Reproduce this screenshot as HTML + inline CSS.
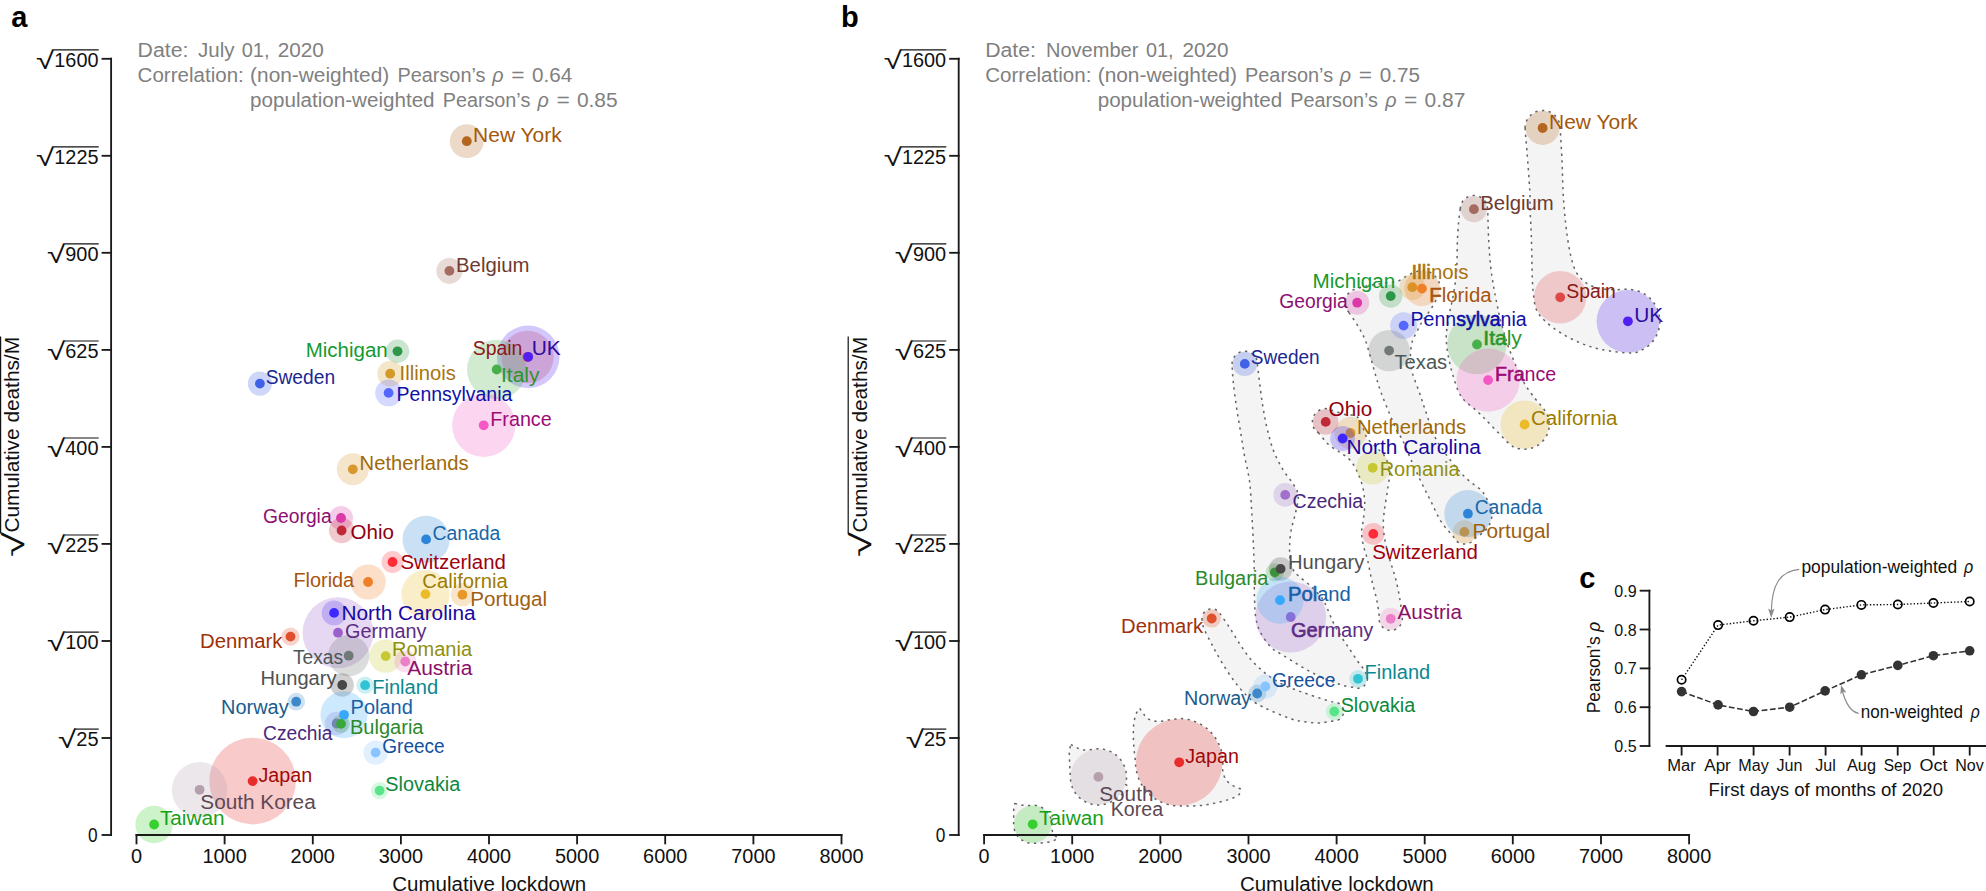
<!DOCTYPE html>
<html lang="en"><head><meta charset="utf-8"><title>Cumulative lockdown vs cumulative deaths</title>
<style>html,body{margin:0;padding:0;background:#fff;overflow:hidden}svg{display:block}text{font-family:"Liberation Sans", "DejaVu Sans", sans-serif;font-size:20px}.ax{stroke:#1a1a1a;stroke-width:1.85;fill:none;stroke-linecap:square}.tk{fill:#111}.ttl{fill:#808080}.pl{font-weight:bold;font-size:29px;fill:#000}.hull{fill:#f4f4f4;stroke:#626262;stroke-width:1.5;stroke-dasharray:2.3 4.4;stroke-linejoin:round}.s{font-size:16px;fill:#111}.m{font-size:17.5px;fill:#111}</style></head><body>
<svg width="1986" height="891" viewBox="0 0 1986 891">
<rect width="1986" height="891" fill="#fff"/>
<g class="hull">
<path d="M1525.1,128.0C1525.0,123.1 1525.6,123.4 1526.4,121.3C1527.3,119.2 1528.6,117.2 1530.2,115.6C1531.8,114.0 1533.8,112.7 1535.9,111.8C1538.0,111.0 1540.4,110.5 1542.6,110.5C1544.8,110.5 1547.2,111.0 1549.3,111.8C1551.4,112.7 1553.4,114.0 1555.0,115.6C1556.6,117.2 1557.9,119.2 1558.8,121.3C1559.6,123.4 1559.6,121.6 1560.1,128.0C1560.6,134.4 1561.5,149.7 1562.0,160.0C1562.5,170.3 1562.6,181.6 1563.0,190.0C1563.4,198.4 1563.8,203.5 1564.4,210.2C1565.0,216.9 1565.5,223.0 1566.5,230.4C1567.5,237.8 1568.8,247.5 1570.5,254.6C1572.2,261.7 1573.7,267.9 1576.6,272.8C1579.5,277.7 1583.5,281.3 1587.7,283.9C1591.9,286.5 1597.1,287.7 1601.8,288.6C1606.5,289.6 1611.2,289.4 1616.0,289.6C1620.8,289.8 1626.1,288.9 1630.7,289.5C1635.3,290.2 1639.7,291.3 1643.5,293.5C1647.3,295.6 1651.0,298.8 1653.6,302.4C1656.2,305.9 1658.2,310.3 1659.1,314.6C1660.0,318.9 1660.0,323.7 1659.1,328.0C1658.2,332.3 1656.2,336.7 1653.6,340.2C1651.0,343.8 1647.3,347.0 1643.5,349.1C1639.7,351.3 1637.6,353.0 1630.7,353.1C1623.7,353.2 1610.0,351.2 1601.8,349.6C1593.6,348.0 1588.3,346.2 1581.6,343.5C1574.9,340.8 1567.5,337.1 1561.4,333.4C1555.4,329.7 1549.5,325.3 1545.3,321.3C1541.1,317.3 1538.2,314.2 1536.2,309.2C1534.2,304.1 1533.8,297.4 1533.1,291.0C1532.4,284.6 1532.3,277.5 1532.1,270.8C1531.9,264.1 1531.9,257.3 1531.7,250.6C1531.5,243.9 1531.4,237.1 1531.1,230.4C1530.8,223.7 1530.3,216.9 1530.1,210.2C1529.9,203.5 1530.2,199.9 1529.7,190.0C1529.2,180.1 1527.7,160.9 1526.9,150.6C1526.1,140.3 1525.2,132.9 1525.1,128.0Z"/>
<path d="M1460.2,209.2C1460.6,206.2 1460.6,205.6 1461.2,204.0C1461.9,202.3 1463.0,200.7 1464.2,199.5C1465.4,198.3 1467.0,197.2 1468.7,196.5C1470.3,195.9 1472.2,195.5 1473.9,195.5C1475.6,195.5 1477.5,195.9 1479.1,196.5C1480.8,197.2 1482.4,198.3 1483.6,199.5C1484.8,200.7 1485.9,202.3 1486.6,204.0C1487.2,205.6 1487.2,203.1 1487.6,209.2C1488.0,215.3 1488.2,230.9 1488.7,240.5C1489.2,250.1 1489.9,259.1 1490.7,266.8C1491.5,274.6 1492.7,280.9 1493.7,287.0C1494.7,293.1 1495.8,298.1 1496.8,303.1C1497.8,308.2 1498.5,311.9 1499.8,317.3C1501.1,322.7 1503.3,330.4 1504.8,335.5C1506.3,340.6 1506.9,342.7 1508.9,348.2C1510.9,353.7 1514.3,362.3 1517.0,368.4C1519.7,374.4 1522.1,379.4 1525.1,384.5C1528.1,389.6 1532.1,394.7 1535.2,398.7C1538.3,402.7 1541.3,405.5 1543.5,408.6C1545.7,411.8 1547.4,414.4 1548.3,417.5C1549.2,420.7 1549.5,424.3 1549.1,427.6C1548.7,430.8 1547.5,434.3 1545.8,437.1C1544.2,439.9 1541.7,442.6 1539.0,444.6C1536.3,446.5 1533.0,448.0 1529.8,448.6C1526.6,449.3 1522.9,449.4 1519.7,448.7C1516.5,448.1 1515.3,448.7 1510.4,444.7C1505.6,440.8 1496.3,430.6 1490.7,424.9C1485.1,419.2 1481.5,415.4 1476.6,410.8C1471.7,406.2 1465.4,402.7 1461.5,397.0C1457.6,391.3 1455.5,383.3 1453.3,376.5C1451.1,369.7 1449.5,362.4 1448.3,356.3C1447.1,350.2 1446.5,344.7 1446.3,340.0C1446.1,335.3 1446.4,332.8 1447.0,328.0C1447.6,323.2 1448.9,316.7 1449.9,311.2C1451.0,305.7 1452.3,300.8 1453.3,295.1C1454.3,289.4 1455.4,282.6 1456.0,276.9C1456.6,271.2 1456.8,266.8 1457.0,260.7C1457.2,254.6 1457.1,246.9 1457.4,240.5C1457.7,234.1 1458.1,227.2 1458.6,222.0C1459.1,216.8 1459.8,212.2 1460.2,209.2Z"/>
<path d="M1349.0,312.5C1346.9,309.5 1346.7,310.2 1346.0,308.9C1345.3,307.6 1344.7,306.0 1344.5,304.5C1344.3,303.0 1344.4,301.3 1344.7,299.8C1345.1,298.3 1345.7,296.8 1346.6,295.5C1347.4,294.3 1349.0,293.1 1349.9,292.2C1350.8,291.3 1350.8,290.9 1352.0,290.3C1353.2,289.7 1354.7,289.3 1357.0,288.6C1359.3,287.9 1362.6,286.7 1365.9,286.0C1369.2,285.3 1373.1,284.7 1376.7,284.2C1380.3,283.7 1383.8,283.3 1387.4,282.8C1391.0,282.3 1395.4,281.9 1398.2,281.0C1401.0,280.1 1402.4,278.4 1404.5,277.2C1406.6,276.0 1408.7,274.9 1410.8,273.9C1412.9,272.9 1414.9,272.0 1417.0,271.4C1419.1,270.8 1421.4,270.3 1423.6,270.5C1425.8,270.6 1428.2,271.4 1430.3,272.4C1432.3,273.4 1434.2,274.9 1435.7,276.7C1437.2,278.4 1438.5,280.5 1439.2,282.7C1439.9,284.8 1440.3,287.3 1440.2,289.6C1440.1,291.8 1439.1,294.7 1438.5,296.3C1437.9,297.9 1437.7,297.5 1436.8,299.0C1435.9,300.5 1434.5,303.1 1433.2,305.3C1431.9,307.5 1430.3,310.0 1428.7,312.4C1427.1,314.8 1424.9,317.4 1423.4,319.6C1421.9,321.9 1421.0,323.6 1419.8,325.9C1418.6,328.1 1417.4,330.6 1416.2,333.1C1415.0,335.6 1413.5,337.2 1412.5,340.9C1411.5,344.6 1410.5,350.1 1410.4,355.1C1410.3,360.2 1410.5,365.1 1411.9,371.2C1413.3,377.2 1416.8,385.0 1419.0,391.4C1421.2,397.8 1422.5,402.1 1425.1,409.6C1427.7,417.1 1431.4,429.2 1434.7,436.4C1438.0,443.5 1441.1,447.1 1444.8,452.5C1448.5,457.9 1453.0,464.0 1457.0,468.7C1461.0,473.4 1465.1,477.2 1469.1,480.8C1473.1,484.4 1478.1,487.1 1481.0,490.0C1483.9,492.9 1484.8,495.5 1486.4,498.1C1488.1,500.8 1489.9,503.2 1490.8,505.9C1491.8,508.7 1492.2,511.8 1492.1,514.8C1491.9,517.7 1491.2,520.8 1490.1,523.4C1488.9,526.1 1487.6,528.2 1485.0,530.8C1482.4,533.4 1476.7,537.0 1474.4,538.9C1472.1,540.8 1472.4,541.2 1471.3,542.0C1470.1,542.8 1468.6,543.4 1467.2,543.8C1465.8,544.1 1464.2,544.2 1462.8,544.0C1461.4,543.8 1459.9,543.3 1458.6,542.6C1457.3,542.0 1456.1,541.0 1455.2,539.9C1454.2,538.8 1455.3,539.2 1452.9,536.1C1450.5,533.0 1444.5,527.0 1440.8,521.2C1437.1,515.4 1434.1,507.7 1430.7,501.0C1427.3,494.3 1424.0,487.9 1420.6,480.8C1417.2,473.7 1413.4,465.2 1410.5,458.6C1407.6,452.0 1405.3,445.8 1403.0,441.0C1400.7,436.2 1399.0,435.2 1396.5,430.0C1394.0,424.8 1390.7,416.4 1388.0,410.0C1385.3,403.6 1382.7,397.2 1380.6,391.4C1378.5,385.6 1377.3,381.0 1375.6,375.3C1373.9,369.6 1372.2,362.8 1370.5,357.1C1368.8,351.4 1367.5,345.9 1365.5,340.9C1363.5,335.8 1361.2,331.5 1358.4,326.8C1355.6,322.1 1351.0,315.5 1349.0,312.5Z"/>
<path d="M1232.1,363.9C1232.1,360.0 1232.5,360.4 1233.1,358.9C1233.8,357.4 1234.8,355.9 1236.0,354.7C1237.2,353.6 1238.8,352.6 1240.3,352.0C1241.9,351.4 1243.7,351.1 1245.4,351.2C1247.0,351.3 1248.8,351.7 1250.3,352.4C1251.8,353.2 1253.3,354.3 1254.3,355.5C1255.4,356.8 1256.4,358.4 1256.9,359.9C1257.4,361.5 1256.8,359.9 1257.5,365.0C1258.1,370.1 1259.6,383.0 1260.6,390.6C1261.6,398.2 1262.4,404.1 1263.6,410.8C1264.8,417.5 1266.0,424.3 1267.7,431.0C1269.4,437.7 1271.2,444.8 1273.7,451.2C1276.2,457.6 1279.6,464.0 1282.8,469.4C1286.0,474.8 1290.3,479.2 1292.9,483.6C1295.5,488.0 1297.9,490.9 1298.3,496.0C1298.7,501.1 1296.4,508.5 1295.2,514.3C1294.0,520.0 1292.0,525.1 1291.1,530.5C1290.2,535.9 1289.7,541.8 1289.6,546.7C1289.5,551.7 1289.6,556.3 1290.3,560.2C1291.0,564.1 1292.0,567.6 1293.5,570.3C1295.0,573.0 1296.1,573.7 1299.1,576.4C1302.0,579.1 1307.3,582.8 1311.2,586.5C1315.1,590.2 1319.6,594.9 1322.3,598.6C1325.0,602.3 1325.6,604.7 1327.4,608.7C1329.2,612.7 1331.1,618.1 1333.4,622.8C1335.8,627.5 1338.8,632.6 1341.5,637.0C1344.2,641.4 1346.9,645.1 1349.6,649.1C1352.3,653.1 1355.3,657.8 1357.7,661.2C1360.1,664.6 1362.3,667.1 1363.7,669.3C1365.1,671.4 1365.5,672.7 1366.1,674.1C1366.7,675.5 1367.2,676.5 1367.3,677.7C1367.5,678.9 1367.4,680.3 1367.0,681.5C1366.6,682.7 1366.0,683.9 1365.2,684.8C1364.4,685.8 1363.3,686.6 1362.2,687.2C1361.1,687.8 1359.8,688.1 1358.5,688.2C1357.3,688.3 1357.3,688.1 1354.8,687.6C1352.3,687.2 1347.4,686.5 1343.5,685.5C1339.6,684.5 1336.1,683.3 1331.4,681.4C1326.7,679.5 1320.7,677.0 1315.3,674.3C1309.9,671.6 1304.5,668.5 1299.1,665.3C1293.7,662.1 1287.6,658.2 1282.9,655.2C1278.2,652.2 1274.7,651.2 1270.8,647.1C1266.9,643.0 1262.2,636.0 1259.7,630.9C1257.2,625.8 1256.6,621.8 1255.7,616.8C1254.8,611.8 1254.8,606.7 1254.6,600.6C1254.3,594.5 1254.3,587.1 1254.2,580.4C1254.1,573.7 1254.2,566.9 1254.0,560.2C1253.8,553.5 1253.6,548.4 1253.2,540.0C1252.8,531.6 1252.2,519.8 1251.6,510.0C1251.0,500.2 1250.7,490.1 1249.5,481.0C1248.3,471.9 1245.9,463.6 1244.4,455.3C1242.9,447.0 1241.7,439.1 1240.4,431.0C1239.1,422.9 1237.6,414.9 1236.4,406.8C1235.2,398.7 1234.0,389.6 1233.3,382.5C1232.6,375.4 1232.1,367.8 1232.1,363.9Z"/>
<path d="M1319.0,433.4C1316.8,431.0 1316.2,431.3 1315.1,430.0C1314.1,428.7 1313.3,427.0 1312.9,425.3C1312.4,423.7 1312.3,421.8 1312.5,420.2C1312.7,418.5 1313.3,416.7 1314.2,415.2C1315.0,413.8 1316.3,412.4 1317.6,411.3C1318.9,410.3 1320.6,409.5 1322.3,409.1C1323.9,408.6 1325.8,408.5 1327.4,408.7C1329.1,408.9 1329.4,409.4 1332.4,410.4C1335.3,411.3 1340.7,413.3 1345.0,414.5C1349.3,415.7 1354.4,413.7 1358.0,417.5C1361.6,421.3 1363.8,432.6 1366.8,437.5C1369.8,442.4 1373.0,443.8 1376.0,447.0C1379.0,450.2 1382.7,452.7 1385.0,456.7C1387.3,460.7 1389.1,465.8 1389.6,470.8C1390.1,475.9 1388.8,480.9 1388.0,487.0C1387.2,493.1 1385.7,501.1 1384.9,507.2C1384.1,513.2 1383.3,517.8 1383.3,523.3C1383.3,528.8 1383.8,533.9 1384.9,540.0C1386.0,546.1 1388.1,553.5 1390.0,560.2C1391.9,566.9 1394.4,573.7 1396.1,580.4C1397.8,587.1 1399.1,594.7 1400.1,600.6C1401.1,606.5 1401.6,612.5 1401.9,615.8C1402.3,619.1 1402.4,618.9 1402.2,620.4C1402.0,621.9 1401.5,623.4 1400.7,624.7C1399.9,626.0 1398.8,627.2 1397.6,628.1C1396.4,629.0 1394.9,629.7 1393.5,630.1C1392.0,630.4 1390.4,630.5 1388.9,630.3C1387.4,630.0 1385.9,629.5 1384.6,628.7C1383.3,627.9 1382.1,626.8 1381.3,625.5C1380.4,624.3 1379.7,622.8 1379.4,621.4C1379.1,619.9 1379.7,620.2 1379.3,616.8C1378.9,613.3 1378.1,606.7 1376.9,600.6C1375.7,594.5 1373.3,587.1 1371.8,580.4C1370.2,573.7 1369.0,566.1 1367.6,560.2C1366.2,554.3 1364.2,549.8 1363.2,545.0C1362.2,540.2 1361.6,535.7 1361.6,531.4C1361.6,527.1 1362.9,524.0 1363.4,519.3C1363.9,514.6 1364.8,508.5 1364.7,503.1C1364.6,497.7 1363.9,492.1 1362.7,487.0C1361.5,481.9 1359.7,477.2 1357.7,472.8C1355.7,468.4 1353.5,464.1 1350.6,460.7C1347.7,457.3 1344.2,455.3 1340.5,452.6C1336.8,449.9 1332.0,447.7 1328.4,444.5C1324.8,441.3 1321.3,435.8 1319.0,433.4Z"/>
<path d="M1202.1,620.2C1201.8,618.1 1202.0,617.6 1202.2,616.3C1202.5,615.1 1203.1,613.9 1203.8,612.8C1204.6,611.8 1205.6,610.9 1206.6,610.2C1207.7,609.6 1209.0,609.1 1210.3,608.9C1211.5,608.7 1212.9,608.8 1214.1,609.1C1215.3,609.4 1216.6,610.0 1217.6,610.8C1218.6,611.5 1218.0,610.6 1220.1,613.6C1222.2,616.7 1227.0,623.7 1230.4,628.9C1233.8,634.1 1237.1,640.0 1240.5,645.1C1243.9,650.2 1247.2,655.2 1250.6,659.2C1254.0,663.2 1257.3,666.3 1260.7,669.3C1264.1,672.3 1266.8,674.7 1270.8,677.4C1274.8,680.1 1279.5,683.0 1284.9,685.5C1290.3,688.0 1297.0,690.3 1303.1,692.5C1309.2,694.7 1316.2,697.0 1321.3,698.6C1326.4,700.2 1330.8,701.6 1333.5,702.2C1336.1,702.9 1336.0,702.3 1337.2,702.7C1338.4,703.0 1339.5,703.7 1340.4,704.5C1341.3,705.3 1342.2,706.4 1342.7,707.5C1343.2,708.6 1343.5,709.9 1343.6,711.1C1343.6,712.3 1343.4,713.6 1343.0,714.8C1342.6,715.9 1341.9,717.1 1341.0,717.9C1340.2,718.8 1339.1,719.6 1338.0,720.1C1336.8,720.5 1337.6,720.3 1334.3,720.8C1331.0,721.3 1323.4,722.9 1318.2,723.0C1313.0,723.1 1307.5,722.2 1303.0,721.5C1298.5,720.8 1296.4,720.6 1291.0,718.8C1285.6,717.0 1276.5,713.2 1270.8,710.7C1265.1,708.2 1260.7,706.1 1256.7,703.6C1252.7,701.1 1250.3,699.3 1246.6,695.6C1242.9,691.9 1238.5,686.8 1234.4,681.4C1230.4,676.0 1226.0,669.2 1222.3,663.2C1218.6,657.2 1215.2,650.8 1212.2,645.1C1209.2,639.4 1205.8,633.1 1204.1,628.9C1202.4,624.7 1202.5,622.3 1202.1,620.2Z"/>
<path d="M1139.8,708.4L1140.1,708.8L1140.4,709.3L1140.8,710.0L1141.3,710.7L1141.7,711.4L1142.2,712.1L1142.7,712.9L1143.2,713.5L1143.7,714.1L1144.1,714.7L1144.5,715.3L1145.0,715.9L1145.5,716.5L1146.0,717.0L1146.5,717.5L1147.1,718.0L1147.7,718.4L1148.3,718.9L1149.0,719.3L1149.7,719.6L1150.4,720.0L1151.2,720.3L1152.0,720.6L1152.8,720.8L1153.7,721.0L1154.6,721.1L1155.5,721.2L1156.5,721.3L1157.5,721.4L1158.5,721.4L1159.6,721.3L1160.6,721.3L1161.7,721.2L1162.7,721.1L1163.8,720.9L1164.9,720.7L1166.0,720.4L1167.2,720.2L1168.4,720.0L1169.6,719.8L1171.0,719.6L1172.5,719.5L1174.1,719.3L1175.7,719.1L1177.3,719.0L1178.7,718.8L1179.9,718.7L1180.7,718.6L1183.8,718.8L1186.7,719.2L1189.5,719.8L1192.3,720.6L1195.1,721.6L1197.8,722.7L1200.4,724.1L1202.9,725.6L1205.3,727.2L1207.6,729.1L1209.7,731.0L1211.8,733.2L1213.6,735.4L1215.4,737.8L1216.9,740.2L1218.3,742.8L1219.5,745.5L1220.6,748.2L1221.4,751.0L1222.1,753.8L1222.5,756.7L1222.8,759.6L1222.9,762.6L1222.8,765.5L1222.5,768.4L1222.5,768.4L1222.6,769.0L1222.7,769.9L1222.9,770.9L1223.1,772.0L1223.3,773.2L1223.6,774.3L1223.9,775.4L1224.2,776.3L1224.6,777.1L1224.9,777.9L1225.3,778.6L1225.8,779.3L1226.2,780.0L1226.8,780.6L1227.3,781.3L1227.9,781.9L1228.5,782.5L1229.3,783.1L1230.0,783.7L1230.8,784.2L1231.6,784.8L1232.4,785.3L1233.2,785.8L1234.0,786.2L1234.8,786.6L1235.7,787.0L1236.6,787.4L1237.5,787.7L1238.4,788.0L1239.2,788.3L1239.8,788.5L1240.3,788.7L1240.3,789.0L1240.4,789.5L1240.5,790.1L1240.5,790.7L1240.6,791.3L1240.5,792.0L1240.4,792.6L1240.1,793.2L1239.7,793.7L1239.3,794.3L1238.8,794.8L1238.2,795.3L1237.5,795.8L1236.7,796.3L1235.8,796.8L1234.7,797.3L1233.5,797.8L1232.2,798.3L1230.8,798.8L1229.2,799.4L1227.6,799.9L1225.8,800.4L1224.0,800.9L1222.0,801.4L1219.9,801.9L1217.7,802.5L1215.4,803.1L1213.0,803.6L1210.4,804.2L1207.8,804.6L1205.1,805.1L1202.4,805.4L1199.4,805.6L1196.0,805.8L1192.4,805.9L1188.8,805.9L1185.4,806.0L1182.2,806.0L1179.6,806.0L1177.7,806.0L1174.6,805.8L1171.5,805.3L1168.3,804.6L1165.3,803.7L1162.3,802.6L1159.4,801.2L1156.6,799.7L1153.9,797.9L1151.3,796.0L1149.0,793.8L1146.7,791.5L1144.7,789.1L1142.8,786.5L1141.1,783.8L1139.7,780.9L1138.4,778.0L1137.4,774.9L1136.6,771.8L1136.0,768.7L1135.6,765.5L1135.5,762.3L1135.4,761.4L1135.3,760.2L1135.1,758.7L1134.9,757.1L1134.7,755.4L1134.5,753.7L1134.3,752.0L1134.2,750.5L1134.1,749.1L1133.9,747.7L1133.8,746.3L1133.7,744.9L1133.6,743.5L1133.5,742.1L1133.5,740.7L1133.4,739.3L1133.4,737.9L1133.3,736.4L1133.3,735.0L1133.3,733.6L1133.3,732.1L1133.3,730.7L1133.3,729.4L1133.4,728.1L1133.5,726.9L1133.6,725.6L1133.7,724.4L1133.9,723.3L1134.0,722.2L1134.2,721.1L1134.4,720.1L1134.6,719.1L1134.8,718.2L1135.0,717.3L1135.2,716.5L1135.4,715.7L1135.7,715.0L1135.9,714.3L1136.2,713.6L1136.5,712.9L1136.9,712.2L1137.3,711.6L1137.8,710.9L1138.3,710.3L1138.7,709.7L1139.2,709.2L1139.5,708.7Z"/>
<path d="M1070.8,744.6L1071.2,744.8L1071.6,745.0L1072.2,745.2L1072.8,745.5L1073.5,745.8L1074.2,746.2L1074.8,746.5L1075.5,746.8L1076.1,747.1L1076.8,747.5L1077.4,747.9L1078.1,748.3L1078.7,748.7L1079.4,749.1L1080.2,749.4L1080.9,749.6L1081.7,749.8L1082.4,749.9L1083.2,750.0L1084.0,750.0L1084.8,750.1L1085.7,750.1L1086.6,750.0L1087.6,750.0L1088.7,749.9L1090.1,749.8L1091.5,749.6L1092.9,749.4L1094.3,749.2L1095.6,749.1L1096.6,748.9L1097.4,748.8L1099.4,748.8L1101.5,749.0L1103.6,749.3L1105.6,749.7L1107.6,750.4L1109.6,751.1L1111.5,752.0L1113.3,753.1L1115.0,754.3L1116.7,755.6L1118.2,757.0L1119.7,758.5L1121.0,760.2L1122.2,761.9L1123.2,763.7L1124.1,765.6L1124.9,767.6L1125.5,769.6L1126.0,771.7L1126.3,773.7L1126.5,775.8L1126.5,777.9L1126.3,780.0L1126.0,782.1L1125.5,784.2L1125.7,784.3L1126.0,784.6L1126.2,784.8L1126.6,785.1L1126.9,785.4L1127.2,785.8L1127.4,786.1L1127.6,786.5L1127.7,786.9L1127.8,787.4L1127.9,787.9L1127.9,788.4L1127.9,788.9L1127.9,789.3L1127.9,789.7L1127.9,790.0L1127.7,790.2L1127.5,790.6L1127.3,791.0L1127.0,791.4L1126.7,791.8L1126.4,792.3L1126.0,792.7L1125.5,793.0L1124.9,793.3L1124.2,793.6L1123.4,793.9L1122.6,794.2L1121.7,794.4L1121.0,794.6L1120.4,794.8L1119.9,795.0L1118.6,796.4L1117.0,798.0L1115.3,799.4L1113.5,800.6L1111.5,801.7L1109.5,802.7L1107.5,803.5L1105.3,804.1L1103.2,804.6L1100.9,804.9L1098.7,805.0L1096.5,804.9L1094.3,804.7L1092.1,804.3L1090.0,803.7L1087.9,803.0L1085.8,802.0L1083.9,801.0L1082.0,799.7L1080.3,798.4L1078.6,796.9L1077.1,795.3L1075.7,793.5L1074.5,791.7L1073.4,789.7L1072.5,787.7L1071.7,785.6L1071.1,783.5L1070.7,781.3L1070.4,779.1L1070.3,776.9L1070.2,775.9L1070.2,774.5L1070.1,772.9L1070.0,771.1L1069.9,769.1L1069.8,767.2L1069.7,765.4L1069.6,763.7L1069.5,762.1L1069.5,760.5L1069.4,758.9L1069.4,757.3L1069.3,755.7L1069.3,754.2L1069.3,752.9L1069.4,751.6L1069.5,750.4L1069.7,749.3L1069.9,748.3L1070.1,747.3L1070.3,746.5L1070.5,745.7L1070.7,745.1Z"/>
<path d="M1014.8,803.5L1015.2,803.6L1015.7,803.7L1016.4,803.9L1017.1,804.1L1017.8,804.3L1018.6,804.5L1019.4,804.7L1020.2,804.8L1021.0,804.9L1021.8,805.1L1022.7,805.2L1023.5,805.3L1024.4,805.4L1025.3,805.5L1026.2,805.6L1027.0,805.6L1027.9,805.6L1028.8,805.6L1029.7,805.5L1030.6,805.5L1031.5,805.4L1032.2,805.3L1032.9,805.2L1033.4,805.2L1034.7,805.3L1036.2,805.5L1037.6,805.9L1039.1,806.3L1040.5,806.9L1041.8,807.5L1043.1,808.3L1044.3,809.1L1045.5,810.1L1046.6,811.2L1047.5,812.3L1048.4,813.5L1049.2,814.8L1049.9,816.1L1050.5,817.5L1051.0,818.9L1051.4,820.3L1051.6,821.8L1051.8,823.3L1051.8,824.8L1051.7,826.3L1051.8,826.9L1051.9,827.7L1052.0,828.7L1052.1,829.8L1052.3,830.9L1052.6,832.0L1052.8,833.0L1053.2,833.8L1053.7,834.5L1054.3,835.1L1055.0,835.7L1055.7,836.3L1056.4,836.7L1057.1,837.2L1057.6,837.5L1058.0,837.8L1057.6,838.1L1057.1,838.5L1056.5,838.9L1055.8,839.4L1055.1,839.9L1054.3,840.4L1053.4,840.8L1052.6,841.2L1051.7,841.5L1050.9,841.7L1050.0,841.9L1049.0,842.1L1048.0,842.3L1046.9,842.4L1045.7,842.6L1044.5,842.7L1043.1,842.8L1041.4,842.9L1039.6,843.0L1037.8,843.1L1036.0,843.2L1034.4,843.3L1033.0,843.3L1032.0,843.4L1030.7,843.3L1029.2,843.1L1027.6,842.7L1026.2,842.2L1024.7,841.7L1023.3,841.0L1022.0,840.1L1020.8,839.2L1019.6,838.2L1018.5,837.1L1017.5,835.9L1016.6,834.6L1015.8,833.3L1015.2,831.9L1014.6,830.4L1014.2,828.9L1013.9,827.4L1013.7,825.9L1013.6,824.3L1013.6,823.7L1013.6,822.8L1013.6,821.8L1013.6,820.7L1013.7,819.6L1013.7,818.4L1013.7,817.3L1013.7,816.3L1013.7,815.4L1013.7,814.5L1013.7,813.6L1013.7,812.8L1013.7,811.9L1013.7,811.1L1013.7,810.3L1013.8,809.5L1013.9,808.7L1014.0,807.8L1014.2,806.9L1014.3,806.1L1014.5,805.3L1014.6,804.6L1014.7,804.0Z"/>
</g>
<g>
<circle cx="466.8" cy="141.2" r="16.9" fill="#b3661f" fill-opacity=".25"/>
<circle cx="449.4" cy="270.9" r="13.0" fill="#a56a60" fill-opacity=".25"/>
<circle cx="259.9" cy="383.6" r="12.1" fill="#4060e8" fill-opacity=".25"/>
<circle cx="397.5" cy="351.3" r="11.7" fill="#2e9648" fill-opacity=".25"/>
<circle cx="390.2" cy="373.7" r="12.9" fill="#d49a28" fill-opacity=".25"/>
<circle cx="388.6" cy="392.9" r="13.4" fill="#5468ff" fill-opacity=".25"/>
<circle cx="527.5" cy="357.0" r="26.2" fill="#e04848" fill-opacity=".25"/>
<circle cx="528.2" cy="356.8" r="31.3" fill="#5020f0" fill-opacity=".25"/>
<circle cx="496.7" cy="369.5" r="29.7" fill="#48b048" fill-opacity=".25"/>
<circle cx="483.7" cy="425.3" r="31.6" fill="#f458c4" fill-opacity=".25"/>
<circle cx="352.8" cy="469.3" r="16.0" fill="#d89830" fill-opacity=".25"/>
<circle cx="341.0" cy="518.0" r="12.0" fill="#dc38a8" fill-opacity=".25"/>
<circle cx="341.6" cy="530.5" r="12.7" fill="#c02838" fill-opacity=".25"/>
<circle cx="426.1" cy="539.4" r="23.6" fill="#2c84d8" fill-opacity=".25"/>
<circle cx="392.5" cy="562.0" r="10.9" fill="#ff2c38" fill-opacity=".25"/>
<circle cx="368.1" cy="582.0" r="17.6" fill="#f08028" fill-opacity=".25"/>
<circle cx="425.5" cy="594.1" r="24.1" fill="#ecbc28" fill-opacity=".25"/>
<circle cx="462.4" cy="594.7" r="11.6" fill="#e89828" fill-opacity=".25"/>
<circle cx="334.1" cy="612.9" r="12.4" fill="#3c28ff" fill-opacity=".25"/>
<circle cx="338.0" cy="632.7" r="35.4" fill="#9c60cc" fill-opacity=".25"/>
<circle cx="290.5" cy="636.6" r="9.1" fill="#e0502c" fill-opacity=".25"/>
<circle cx="348.7" cy="655.7" r="20.6" fill="#707878" fill-opacity=".25"/>
<circle cx="385.7" cy="656.1" r="16.7" fill="#c8c830" fill-opacity=".25"/>
<circle cx="405.3" cy="661.5" r="11.0" fill="#ec80c8" fill-opacity=".25"/>
<circle cx="342.2" cy="685.0" r="11.7" fill="#484848" fill-opacity=".25"/>
<circle cx="365.1" cy="685.2" r="8.7" fill="#30c4d4" fill-opacity=".25"/>
<circle cx="296.2" cy="701.7" r="8.9" fill="#3c88c8" fill-opacity=".25"/>
<circle cx="336.6" cy="723.5" r="11.8" fill="#a070cc" fill-opacity=".25"/>
<circle cx="336.6" cy="723.5" r="4.9" fill="#a070cc"/>
<circle cx="344.0" cy="714.8" r="23.5" fill="#38a8fc" fill-opacity=".25"/>
<circle cx="341.0" cy="723.9" r="9.1" fill="#38a838" fill-opacity=".25"/>
<circle cx="375.6" cy="752.6" r="12.2" fill="#88c4ff" fill-opacity=".25"/>
<circle cx="379.6" cy="790.6" r="8.6" fill="#58e488" fill-opacity=".25"/>
<circle cx="252.6" cy="781.1" r="43.3" fill="#e82c2c" fill-opacity=".25"/>
<circle cx="199.6" cy="789.8" r="27.7" fill="#b4a0ac" fill-opacity=".25"/>
<circle cx="154.1" cy="824.5" r="18.7" fill="#38d030" fill-opacity=".25"/>
<circle cx="1542.6" cy="128.0" r="16.9" fill="#b3661f" fill-opacity=".25"/>
<circle cx="1473.9" cy="209.2" r="13.0" fill="#a56a60" fill-opacity=".25"/>
<circle cx="1357.2" cy="302.7" r="12.0" fill="#dc38a8" fill-opacity=".25"/>
<circle cx="1390.7" cy="296.1" r="11.7" fill="#2e9648" fill-opacity=".25"/>
<circle cx="1412.3" cy="287.2" r="12.9" fill="#d49a28" fill-opacity=".25"/>
<circle cx="1412.3" cy="287.2" r="4.9" fill="#d49a28"/>
<circle cx="1422.0" cy="288.6" r="17.6" fill="#f08028" fill-opacity=".25"/>
<circle cx="1403.6" cy="325.6" r="13.4" fill="#5468ff" fill-opacity=".25"/>
<circle cx="1389.1" cy="350.6" r="20.6" fill="#707878" fill-opacity=".25"/>
<circle cx="1477.0" cy="344.5" r="29.7" fill="#48b048" fill-opacity=".25"/>
<circle cx="1488.1" cy="380.1" r="31.6" fill="#f458c4" fill-opacity=".25"/>
<circle cx="1560.2" cy="297.3" r="26.2" fill="#e04848" fill-opacity=".25"/>
<circle cx="1627.9" cy="321.3" r="31.3" fill="#5020f0" fill-opacity=".25"/>
<circle cx="1244.8" cy="363.9" r="12.1" fill="#4060e8" fill-opacity=".25"/>
<circle cx="1325.7" cy="421.9" r="12.7" fill="#c02838" fill-opacity=".25"/>
<circle cx="1350.5" cy="433.0" r="16.0" fill="#d89830" fill-opacity=".25"/>
<circle cx="1350.5" cy="433.0" r="4.9" fill="#d89830"/>
<circle cx="1342.6" cy="438.5" r="12.4" fill="#3c28ff" fill-opacity=".25"/>
<circle cx="1372.7" cy="467.8" r="16.7" fill="#c8c830" fill-opacity=".25"/>
<circle cx="1285.2" cy="494.9" r="11.8" fill="#a070cc" fill-opacity=".25"/>
<circle cx="1524.6" cy="424.5" r="24.1" fill="#ecbc28" fill-opacity=".25"/>
<circle cx="1464.4" cy="531.9" r="11.6" fill="#e89828" fill-opacity=".25"/>
<circle cx="1464.4" cy="531.9" r="4.9" fill="#e89828"/>
<circle cx="1467.9" cy="513.7" r="23.6" fill="#2c84d8" fill-opacity=".25"/>
<circle cx="1373.3" cy="533.9" r="10.9" fill="#ff2c38" fill-opacity=".25"/>
<circle cx="1274.9" cy="572.3" r="9.1" fill="#38a838" fill-opacity=".25"/>
<circle cx="1274.9" cy="572.3" r="4.9" fill="#38a838"/>
<circle cx="1280.6" cy="568.9" r="11.7" fill="#484848" fill-opacity=".25"/>
<circle cx="1290.7" cy="617.0" r="35.4" fill="#9c60cc" fill-opacity=".25"/>
<circle cx="1290.7" cy="617.0" r="4.9" fill="#9c60cc"/>
<circle cx="1280.0" cy="600.2" r="23.5" fill="#38a8fc" fill-opacity=".25"/>
<circle cx="1390.7" cy="618.8" r="11.0" fill="#ec80c8" fill-opacity=".25"/>
<circle cx="1211.7" cy="618.5" r="9.1" fill="#e0502c" fill-opacity=".25"/>
<circle cx="1265.3" cy="686.5" r="12.2" fill="#88c4ff" fill-opacity=".25"/>
<circle cx="1257.2" cy="693.5" r="8.9" fill="#3c88c8" fill-opacity=".25"/>
<circle cx="1358.0" cy="678.8" r="8.7" fill="#30c4d4" fill-opacity=".25"/>
<circle cx="1334.3" cy="711.5" r="8.6" fill="#58e488" fill-opacity=".25"/>
<circle cx="1179.2" cy="762.3" r="43.3" fill="#e82c2c" fill-opacity=".25"/>
<circle cx="1098.4" cy="776.9" r="27.7" fill="#b4a0ac" fill-opacity=".25"/>
<circle cx="1032.7" cy="824.3" r="18.7" fill="#38d030" fill-opacity=".25"/>
</g>
<path class="ax" d="M111.1,58.6V835.0"/><path class="ax" d="M102.5,58.8H111.1"/><text x="54.3" y="67.2" class="tk" textLength="44.2" lengthAdjust="spacingAndGlyphs">1600</text><line x1="53.7" y1="49.9" x2="98.7" y2="49.9" stroke="#111" stroke-width="1.2"/><text class="tk rad" x="0.0" y="0.0" transform="translate(36.1,68.9) scale(1.660,1.228)">√</text><path class="ax" d="M102.5,155.8H111.1"/><text x="54.3" y="164.2" class="tk" textLength="44.2" lengthAdjust="spacingAndGlyphs">1225</text><line x1="53.7" y1="146.9" x2="98.7" y2="146.9" stroke="#111" stroke-width="1.2"/><text class="tk rad" x="0.0" y="0.0" transform="translate(36.1,165.9) scale(1.660,1.228)">√</text><path class="ax" d="M102.5,252.8H111.1"/><text x="65.3" y="261.2" class="tk" textLength="33.2" lengthAdjust="spacingAndGlyphs">900</text><line x1="64.7" y1="243.9" x2="98.7" y2="243.9" stroke="#111" stroke-width="1.2"/><text class="tk rad" x="0.0" y="0.0" transform="translate(47.1,262.9) scale(1.660,1.228)">√</text><path class="ax" d="M102.5,349.9H111.1"/><text x="65.3" y="358.3" class="tk" textLength="33.2" lengthAdjust="spacingAndGlyphs">625</text><line x1="64.7" y1="341.0" x2="98.7" y2="341.0" stroke="#111" stroke-width="1.2"/><text class="tk rad" x="0.0" y="0.0" transform="translate(47.1,360.0) scale(1.660,1.228)">√</text><path class="ax" d="M102.5,446.9H111.1"/><text x="65.3" y="455.3" class="tk" textLength="33.2" lengthAdjust="spacingAndGlyphs">400</text><line x1="64.7" y1="438.0" x2="98.7" y2="438.0" stroke="#111" stroke-width="1.2"/><text class="tk rad" x="0.0" y="0.0" transform="translate(47.1,457.0) scale(1.660,1.228)">√</text><path class="ax" d="M102.5,543.9H111.1"/><text x="65.3" y="552.3" class="tk" textLength="33.2" lengthAdjust="spacingAndGlyphs">225</text><line x1="64.7" y1="535.0" x2="98.7" y2="535.0" stroke="#111" stroke-width="1.2"/><text class="tk rad" x="0.0" y="0.0" transform="translate(47.1,554.0) scale(1.660,1.228)">√</text><path class="ax" d="M102.5,641.0H111.1"/><text x="65.3" y="649.4" class="tk" textLength="33.2" lengthAdjust="spacingAndGlyphs">100</text><line x1="64.7" y1="632.1" x2="98.7" y2="632.1" stroke="#111" stroke-width="1.2"/><text class="tk rad" x="0.0" y="0.0" transform="translate(47.1,651.1) scale(1.660,1.228)">√</text><path class="ax" d="M102.5,738.0H111.1"/><text x="76.3" y="746.4" class="tk" textLength="22.2" lengthAdjust="spacingAndGlyphs">25</text><line x1="75.7" y1="729.1" x2="98.7" y2="729.1" stroke="#111" stroke-width="1.2"/><text class="tk rad" x="0.0" y="0.0" transform="translate(58.1,748.1) scale(1.660,1.228)">√</text><path class="ax" d="M102.5,835.0H111.1"/><text x="88.1" y="842.2" class="tk" textLength="9.6" lengthAdjust="spacingAndGlyphs">0</text><path class="ax" d="M136.5,835.0H841.5"/><path class="ax" d="M136.5,835.0V843.4"/><text x="131.0" y="862.8" class="tk" textLength="11.1" lengthAdjust="spacingAndGlyphs">0</text><path class="ax" d="M224.6,835.0V843.4"/><text x="202.5" y="862.8" class="tk" textLength="44.2" lengthAdjust="spacingAndGlyphs">1000</text><path class="ax" d="M312.8,835.0V843.4"/><text x="290.6" y="862.8" class="tk" textLength="44.2" lengthAdjust="spacingAndGlyphs">2000</text><path class="ax" d="M400.9,835.0V843.4"/><text x="378.8" y="862.8" class="tk" textLength="44.2" lengthAdjust="spacingAndGlyphs">3000</text><path class="ax" d="M489.0,835.0V843.4"/><text x="466.9" y="862.8" class="tk" textLength="44.2" lengthAdjust="spacingAndGlyphs">4000</text><path class="ax" d="M577.1,835.0V843.4"/><text x="555.0" y="862.8" class="tk" textLength="44.2" lengthAdjust="spacingAndGlyphs">5000</text><path class="ax" d="M665.2,835.0V843.4"/><text x="643.1" y="862.8" class="tk" textLength="44.2" lengthAdjust="spacingAndGlyphs">6000</text><path class="ax" d="M753.4,835.0V843.4"/><text x="731.3" y="862.8" class="tk" textLength="44.2" lengthAdjust="spacingAndGlyphs">7000</text><path class="ax" d="M841.5,835.0V843.4"/><text x="819.4" y="862.8" class="tk" textLength="44.2" lengthAdjust="spacingAndGlyphs">8000</text><text x="392.3" y="890.6" class="tk" textLength="193.9" lengthAdjust="spacingAndGlyphs">Cumulative lockdown</text><g transform="translate(19.2,532.5) rotate(-90)"><text x="0.0" y="0.0" class="tk" textLength="195.5" lengthAdjust="spacingAndGlyphs">Cumulative deaths/M</text><line x1="-1" y1="-18.6" x2="196" y2="-18.6" stroke="#111" stroke-width="1.2"/><text class="tk rad" transform="translate(-24.6,4.4) scale(2.280,1.460)">√</text></g>
<path class="ax" d="M958.7,58.6V835.0"/><path class="ax" d="M950.1,58.8H958.7"/><text x="901.9" y="67.2" class="tk" textLength="44.2" lengthAdjust="spacingAndGlyphs">1600</text><line x1="901.3" y1="49.9" x2="946.3" y2="49.9" stroke="#111" stroke-width="1.2"/><text class="tk rad" x="0.0" y="0.0" transform="translate(883.7,68.9) scale(1.660,1.228)">√</text><path class="ax" d="M950.1,155.8H958.7"/><text x="901.9" y="164.2" class="tk" textLength="44.2" lengthAdjust="spacingAndGlyphs">1225</text><line x1="901.3" y1="146.9" x2="946.3" y2="146.9" stroke="#111" stroke-width="1.2"/><text class="tk rad" x="0.0" y="0.0" transform="translate(883.7,165.9) scale(1.660,1.228)">√</text><path class="ax" d="M950.1,252.8H958.7"/><text x="912.9" y="261.2" class="tk" textLength="33.2" lengthAdjust="spacingAndGlyphs">900</text><line x1="912.3" y1="243.9" x2="946.3" y2="243.9" stroke="#111" stroke-width="1.2"/><text class="tk rad" x="0.0" y="0.0" transform="translate(894.7,262.9) scale(1.660,1.228)">√</text><path class="ax" d="M950.1,349.9H958.7"/><text x="912.9" y="358.3" class="tk" textLength="33.2" lengthAdjust="spacingAndGlyphs">625</text><line x1="912.3" y1="341.0" x2="946.3" y2="341.0" stroke="#111" stroke-width="1.2"/><text class="tk rad" x="0.0" y="0.0" transform="translate(894.7,360.0) scale(1.660,1.228)">√</text><path class="ax" d="M950.1,446.9H958.7"/><text x="912.9" y="455.3" class="tk" textLength="33.2" lengthAdjust="spacingAndGlyphs">400</text><line x1="912.3" y1="438.0" x2="946.3" y2="438.0" stroke="#111" stroke-width="1.2"/><text class="tk rad" x="0.0" y="0.0" transform="translate(894.7,457.0) scale(1.660,1.228)">√</text><path class="ax" d="M950.1,543.9H958.7"/><text x="912.9" y="552.3" class="tk" textLength="33.2" lengthAdjust="spacingAndGlyphs">225</text><line x1="912.3" y1="535.0" x2="946.3" y2="535.0" stroke="#111" stroke-width="1.2"/><text class="tk rad" x="0.0" y="0.0" transform="translate(894.7,554.0) scale(1.660,1.228)">√</text><path class="ax" d="M950.1,641.0H958.7"/><text x="912.9" y="649.4" class="tk" textLength="33.2" lengthAdjust="spacingAndGlyphs">100</text><line x1="912.3" y1="632.1" x2="946.3" y2="632.1" stroke="#111" stroke-width="1.2"/><text class="tk rad" x="0.0" y="0.0" transform="translate(894.7,651.1) scale(1.660,1.228)">√</text><path class="ax" d="M950.1,738.0H958.7"/><text x="923.9" y="746.4" class="tk" textLength="22.2" lengthAdjust="spacingAndGlyphs">25</text><line x1="923.3" y1="729.1" x2="946.3" y2="729.1" stroke="#111" stroke-width="1.2"/><text class="tk rad" x="0.0" y="0.0" transform="translate(905.7,748.1) scale(1.660,1.228)">√</text><path class="ax" d="M950.1,835.0H958.7"/><text x="935.7" y="842.2" class="tk" textLength="9.6" lengthAdjust="spacingAndGlyphs">0</text><path class="ax" d="M984.1,835.0H1689.1"/><path class="ax" d="M984.1,835.0V843.4"/><text x="978.6" y="862.8" class="tk" textLength="11.0" lengthAdjust="spacingAndGlyphs">0</text><path class="ax" d="M1072.2,835.0V843.4"/><text x="1050.1" y="862.8" class="tk" textLength="44.2" lengthAdjust="spacingAndGlyphs">1000</text><path class="ax" d="M1160.3,835.0V843.4"/><text x="1138.2" y="862.8" class="tk" textLength="44.2" lengthAdjust="spacingAndGlyphs">2000</text><path class="ax" d="M1248.5,835.0V843.4"/><text x="1226.4" y="862.8" class="tk" textLength="44.2" lengthAdjust="spacingAndGlyphs">3000</text><path class="ax" d="M1336.6,835.0V843.4"/><text x="1314.5" y="862.8" class="tk" textLength="44.2" lengthAdjust="spacingAndGlyphs">4000</text><path class="ax" d="M1424.7,835.0V843.4"/><text x="1402.6" y="862.8" class="tk" textLength="44.2" lengthAdjust="spacingAndGlyphs">5000</text><path class="ax" d="M1512.8,835.0V843.4"/><text x="1490.8" y="862.8" class="tk" textLength="44.2" lengthAdjust="spacingAndGlyphs">6000</text><path class="ax" d="M1601.0,835.0V843.4"/><text x="1578.9" y="862.8" class="tk" textLength="44.2" lengthAdjust="spacingAndGlyphs">7000</text><path class="ax" d="M1689.1,835.0V843.4"/><text x="1667.0" y="862.8" class="tk" textLength="44.2" lengthAdjust="spacingAndGlyphs">8000</text><text x="1239.9" y="890.6" class="tk" textLength="193.9" lengthAdjust="spacingAndGlyphs">Cumulative lockdown</text><g transform="translate(866.8,532.5) rotate(-90)"><text x="0.0" y="0.0" class="tk" textLength="195.5" lengthAdjust="spacingAndGlyphs">Cumulative deaths/M</text><line x1="-1" y1="-18.6" x2="196" y2="-18.6" stroke="#111" stroke-width="1.2"/><text class="tk rad" transform="translate(-24.6,4.4) scale(2.280,1.460)">√</text></g>
<g>
<circle cx="466.8" cy="141.2" r="4.9" fill="#b3661f"/>
<circle cx="449.4" cy="270.9" r="4.9" fill="#a56a60"/>
<circle cx="259.9" cy="383.6" r="4.9" fill="#4060e8"/>
<circle cx="397.5" cy="351.3" r="4.9" fill="#2e9648"/>
<circle cx="390.2" cy="373.7" r="4.9" fill="#d49a28"/>
<circle cx="388.6" cy="392.9" r="4.9" fill="#5468ff"/>
<circle cx="527.5" cy="357.0" r="4.9" fill="#e04848"/>
<circle cx="528.2" cy="356.8" r="4.9" fill="#5020f0"/>
<circle cx="496.7" cy="369.5" r="4.9" fill="#48b048"/>
<circle cx="483.7" cy="425.3" r="4.9" fill="#f458c4"/>
<circle cx="352.8" cy="469.3" r="4.9" fill="#d89830"/>
<circle cx="341.0" cy="518.0" r="4.9" fill="#dc38a8"/>
<circle cx="341.6" cy="530.5" r="4.9" fill="#c02838"/>
<circle cx="426.1" cy="539.4" r="4.9" fill="#2c84d8"/>
<circle cx="392.5" cy="562.0" r="4.9" fill="#ff2c38"/>
<circle cx="368.1" cy="582.0" r="4.9" fill="#f08028"/>
<circle cx="425.5" cy="594.1" r="4.9" fill="#ecbc28"/>
<circle cx="462.4" cy="594.7" r="4.9" fill="#e89828"/>
<circle cx="334.1" cy="612.9" r="4.9" fill="#3c28ff"/>
<circle cx="338.0" cy="632.7" r="4.9" fill="#9c60cc"/>
<circle cx="290.5" cy="636.6" r="4.9" fill="#e0502c"/>
<circle cx="348.7" cy="655.7" r="4.9" fill="#707878"/>
<circle cx="385.7" cy="656.1" r="4.9" fill="#c8c830"/>
<circle cx="405.3" cy="661.5" r="4.9" fill="#ec80c8"/>
<circle cx="342.2" cy="685.0" r="4.9" fill="#484848"/>
<circle cx="365.1" cy="685.2" r="4.9" fill="#30c4d4"/>
<circle cx="296.2" cy="701.7" r="4.9" fill="#3c88c8"/>
<circle cx="344.0" cy="714.8" r="4.9" fill="#38a8fc"/>
<circle cx="341.0" cy="723.9" r="4.9" fill="#38a838"/>
<circle cx="375.6" cy="752.6" r="4.9" fill="#88c4ff"/>
<circle cx="379.6" cy="790.6" r="4.9" fill="#58e488"/>
<circle cx="252.6" cy="781.1" r="4.9" fill="#e82c2c"/>
<circle cx="199.6" cy="789.8" r="4.9" fill="#b4a0ac"/>
<circle cx="154.1" cy="824.5" r="4.9" fill="#38d030"/>
<circle cx="1542.6" cy="128.0" r="4.9" fill="#b3661f"/>
<circle cx="1473.9" cy="209.2" r="4.9" fill="#a56a60"/>
<circle cx="1357.2" cy="302.7" r="4.9" fill="#dc38a8"/>
<circle cx="1390.7" cy="296.1" r="4.9" fill="#2e9648"/>
<circle cx="1422.0" cy="288.6" r="4.9" fill="#f08028"/>
<circle cx="1403.6" cy="325.6" r="4.9" fill="#5468ff"/>
<circle cx="1389.1" cy="350.6" r="4.9" fill="#707878"/>
<circle cx="1477.0" cy="344.5" r="4.9" fill="#48b048"/>
<circle cx="1488.1" cy="380.1" r="4.9" fill="#f458c4"/>
<circle cx="1560.2" cy="297.3" r="4.9" fill="#e04848"/>
<circle cx="1627.9" cy="321.3" r="4.9" fill="#5020f0"/>
<circle cx="1244.8" cy="363.9" r="4.9" fill="#4060e8"/>
<circle cx="1325.7" cy="421.9" r="4.9" fill="#c02838"/>
<circle cx="1342.6" cy="438.5" r="4.9" fill="#3c28ff"/>
<circle cx="1372.7" cy="467.8" r="4.9" fill="#c8c830"/>
<circle cx="1285.2" cy="494.9" r="4.9" fill="#a070cc"/>
<circle cx="1524.6" cy="424.5" r="4.9" fill="#ecbc28"/>
<circle cx="1467.9" cy="513.7" r="4.9" fill="#2c84d8"/>
<circle cx="1373.3" cy="533.9" r="4.9" fill="#ff2c38"/>
<circle cx="1280.6" cy="568.9" r="4.9" fill="#484848"/>
<circle cx="1280.0" cy="600.2" r="4.9" fill="#38a8fc"/>
<circle cx="1390.7" cy="618.8" r="4.9" fill="#ec80c8"/>
<circle cx="1211.7" cy="618.5" r="4.9" fill="#e0502c"/>
<circle cx="1265.3" cy="686.5" r="4.9" fill="#88c4ff"/>
<circle cx="1257.2" cy="693.5" r="4.9" fill="#3c88c8"/>
<circle cx="1358.0" cy="678.8" r="4.9" fill="#30c4d4"/>
<circle cx="1334.3" cy="711.5" r="4.9" fill="#58e488"/>
<circle cx="1179.2" cy="762.3" r="4.9" fill="#e82c2c"/>
<circle cx="1098.4" cy="776.9" r="4.9" fill="#b4a0ac"/>
<circle cx="1032.7" cy="824.3" r="4.9" fill="#38d030"/>
</g>
<g>
<text x="473.1" y="142.3" fill="#a4570a" textLength="88.7" lengthAdjust="spacingAndGlyphs">New York</text>
<text x="456.0" y="271.8" fill="#6e3a30" textLength="73.5" lengthAdjust="spacingAndGlyphs">Belgium</text>
<text x="265.7" y="384.1" fill="#1a2890" textLength="69.4" lengthAdjust="spacingAndGlyphs">Sweden</text>
<text x="305.7" y="356.5" fill="#149a30" textLength="82.0" lengthAdjust="spacingAndGlyphs">Michigan</text>
<text x="399.6" y="380.3" fill="#a8740c" textLength="56.2" lengthAdjust="spacingAndGlyphs">Illinois</text>
<text x="396.6" y="400.5" fill="#1010a8" textLength="115.7" lengthAdjust="spacingAndGlyphs">Pennsylvania</text>
<text x="472.7" y="354.6" fill="#8c1818" textLength="49.7" lengthAdjust="spacingAndGlyphs">Spain</text>
<text x="531.7" y="354.6" fill="#2c0ca0" textLength="29.1" lengthAdjust="spacingAndGlyphs">UK</text>
<text x="501.0" y="381.9" fill="#2a962a" textLength="38.5" lengthAdjust="spacingAndGlyphs">Italy</text>
<text x="490.3" y="425.8" fill="#9c0c74" textLength="61.4" lengthAdjust="spacingAndGlyphs">France</text>
<text x="359.6" y="469.8" fill="#a06a08" textLength="108.9" lengthAdjust="spacingAndGlyphs">Netherlands</text>
<text x="263.1" y="522.5" fill="#8c1070" textLength="68.5" lengthAdjust="spacingAndGlyphs">Georgia</text>
<text x="350.6" y="538.7" fill="#900010" textLength="43.4" lengthAdjust="spacingAndGlyphs">Ohio</text>
<text x="432.4" y="539.9" fill="#1668a8" textLength="67.9" lengthAdjust="spacingAndGlyphs">Canada</text>
<text x="400.5" y="568.8" fill="#a00010" textLength="105.3" lengthAdjust="spacingAndGlyphs">Switzerland</text>
<text x="293.4" y="587.0" fill="#a85410" textLength="60.8" lengthAdjust="spacingAndGlyphs">Florida</text>
<text x="422.3" y="588.2" fill="#9c7c00" textLength="85.5" lengthAdjust="spacingAndGlyphs">California</text>
<text x="470.2" y="606.2" fill="#a06010" textLength="77.0" lengthAdjust="spacingAndGlyphs">Portugal</text>
<text x="341.5" y="619.9" fill="#1808a0" textLength="134.0" lengthAdjust="spacingAndGlyphs">North Carolina</text>
<text x="345.0" y="637.7" fill="#5c2c84" textLength="81.5" lengthAdjust="spacingAndGlyphs">Germany</text>
<text x="200.1" y="647.8" fill="#a03008" textLength="82.4" lengthAdjust="spacingAndGlyphs">Denmark</text>
<text x="293.0" y="663.8" fill="#4c5858" textLength="50.1" lengthAdjust="spacingAndGlyphs">Texas</text>
<text x="392.0" y="656.2" fill="#909010" textLength="80.0" lengthAdjust="spacingAndGlyphs">Romania</text>
<text x="407.2" y="675.3" fill="#8c1068" textLength="65.2" lengthAdjust="spacingAndGlyphs">Austria</text>
<text x="260.5" y="684.6" fill="#505050" textLength="76.0" lengthAdjust="spacingAndGlyphs">Hungary</text>
<text x="372.2" y="694.1" fill="#0c8890" textLength="65.9" lengthAdjust="spacingAndGlyphs">Finland</text>
<text x="221.1" y="713.7" fill="#185c8c" textLength="67.5" lengthAdjust="spacingAndGlyphs">Norway</text>
<text x="263.1" y="739.6" fill="#48287c" textLength="69.3" lengthAdjust="spacingAndGlyphs">Czechia</text>
<text x="350.6" y="714.3" fill="#1660a8" textLength="62.2" lengthAdjust="spacingAndGlyphs">Poland</text>
<text x="350.0" y="733.5" fill="#2a8a2a" textLength="73.5" lengthAdjust="spacingAndGlyphs">Bulgaria</text>
<text x="382.3" y="752.7" fill="#1450a0" textLength="62.4" lengthAdjust="spacingAndGlyphs">Greece</text>
<text x="385.3" y="791.1" fill="#0c883c" textLength="75.0" lengthAdjust="spacingAndGlyphs">Slovakia</text>
<text x="258.5" y="781.8" fill="#a00808" textLength="53.7" lengthAdjust="spacingAndGlyphs">Japan</text>
<text x="200.3" y="808.5" fill="#5c4854" textLength="115.4" lengthAdjust="spacingAndGlyphs">South Korea</text>
<text x="159.9" y="825.0" fill="#18a018" textLength="64.8" lengthAdjust="spacingAndGlyphs">Taiwan</text>
<text x="1549.0" y="128.5" fill="#a4570a" textLength="88.7" lengthAdjust="spacingAndGlyphs">New York</text>
<text x="1480.3" y="210.3" fill="#6e3a30" textLength="73.5" lengthAdjust="spacingAndGlyphs">Belgium</text>
<text x="1279.3" y="307.9" fill="#8c1070" textLength="68.5" lengthAdjust="spacingAndGlyphs">Georgia</text>
<text x="1312.6" y="287.7" fill="#149a30" textLength="82.6" lengthAdjust="spacingAndGlyphs">Michigan</text>
<text x="1411.6" y="279.0" fill="#a8740c" textLength="56.8" lengthAdjust="spacingAndGlyphs"><tspan stroke="#a8740c" stroke-width=".6">Illi</tspan>nois</text>
<text x="1429.2" y="302.2" fill="#a85410" textLength="62.4" lengthAdjust="spacingAndGlyphs"><tspan stroke="#a85410" stroke-width=".6">F</tspan>lorida</text>
<text x="1410.6" y="326.1" fill="#1010a8" textLength="116.0" lengthAdjust="spacingAndGlyphs">Penn<tspan stroke="#1010a8" stroke-width=".6">sylva</tspan>nia</text>
<text x="1394.5" y="368.9" fill="#4c5858" textLength="52.7" lengthAdjust="spacingAndGlyphs">Texas</text>
<text x="1483.3" y="345.0" fill="#2a962a" textLength="38.6" lengthAdjust="spacingAndGlyphs"><tspan stroke="#2a962a" stroke-width=".6">Ita</tspan>ly</text>
<text x="1495.1" y="380.6" fill="#9c0c74" textLength="61.2" lengthAdjust="spacingAndGlyphs"><tspan stroke="#9c0c74" stroke-width=".6">Fra</tspan>nce</text>
<text x="1566.2" y="297.8" fill="#8c1818" textLength="49.7" lengthAdjust="spacingAndGlyphs">Spain</text>
<text x="1634.3" y="321.8" fill="#2c0ca0" textLength="29.0" lengthAdjust="spacingAndGlyphs">UK</text>
<text x="1250.8" y="364.4" fill="#1a2890" textLength="68.9" lengthAdjust="spacingAndGlyphs">Sweden</text>
<text x="1328.6" y="415.8" fill="#900010" textLength="43.6" lengthAdjust="spacingAndGlyphs">Ohio</text>
<text x="1356.9" y="433.5" fill="#a06a08" textLength="109.3" lengthAdjust="spacingAndGlyphs">Netherlands</text>
<text x="1346.4" y="454.3" fill="#1808a0" textLength="134.5" lengthAdjust="spacingAndGlyphs">North Carolina</text>
<text x="1379.7" y="475.6" fill="#909010" textLength="80.0" lengthAdjust="spacingAndGlyphs">Romania</text>
<text x="1292.6" y="508.3" fill="#48287c" textLength="70.5" lengthAdjust="spacingAndGlyphs">Czechia</text>
<text x="1531.0" y="425.0" fill="#9c7c00" textLength="86.5" lengthAdjust="spacingAndGlyphs">California</text>
<text x="1474.7" y="514.2" fill="#1668a8" textLength="67.4" lengthAdjust="spacingAndGlyphs">Canada</text>
<text x="1472.6" y="537.7" fill="#a06010" textLength="77.6" lengthAdjust="spacingAndGlyphs">Portugal</text>
<text x="1372.2" y="558.9" fill="#a00010" textLength="105.7" lengthAdjust="spacingAndGlyphs">Switzerland</text>
<text x="1288.0" y="569.4" fill="#505050" textLength="76.3" lengthAdjust="spacingAndGlyphs">Hungary</text>
<text x="1195.1" y="585.1" fill="#2a8a2a" textLength="73.3" lengthAdjust="spacingAndGlyphs">Bulgaria</text>
<text x="1288.0" y="601.1" fill="#1660a8" textLength="62.8" lengthAdjust="spacingAndGlyphs"><tspan stroke="#1660a8" stroke-width=".6">Pol</tspan>and</text>
<text x="1291.0" y="637.1" fill="#5c2c84" textLength="82.4" lengthAdjust="spacingAndGlyphs"><tspan stroke="#5c2c84" stroke-width=".6">Ger</tspan>many</text>
<text x="1397.5" y="619.3" fill="#8c1068" textLength="64.4" lengthAdjust="spacingAndGlyphs">Austria</text>
<text x="1121.1" y="632.5" fill="#a03008" textLength="82.0" lengthAdjust="spacingAndGlyphs">Denmark</text>
<text x="1272.0" y="687.0" fill="#1450a0" textLength="63.5" lengthAdjust="spacingAndGlyphs">Greece</text>
<text x="1184.1" y="704.9" fill="#185c8c" textLength="66.9" lengthAdjust="spacingAndGlyphs">Norway</text>
<text x="1364.6" y="678.9" fill="#0c8890" textLength="65.6" lengthAdjust="spacingAndGlyphs">Finland</text>
<text x="1340.7" y="712.0" fill="#0c883c" textLength="74.5" lengthAdjust="spacingAndGlyphs">Slovakia</text>
<text x="1185.2" y="762.7" fill="#a00808" textLength="53.7" lengthAdjust="spacingAndGlyphs">Japan</text>
<text x="1099.3" y="800.6" fill="#5c4854" textLength="54.1" lengthAdjust="spacingAndGlyphs">South</text>
<text x="1110.8" y="815.8" fill="#5c4854" textLength="52.3" lengthAdjust="spacingAndGlyphs">Korea</text>
<text x="1039.1" y="824.8" fill="#18a018" textLength="64.8" lengthAdjust="spacingAndGlyphs">Taiwan</text>
</g>
<text x="137.6" y="57.4" class="ttl" textLength="50.8" lengthAdjust="spacingAndGlyphs">Date:</text><text x="198.0" y="57.4" class="ttl" textLength="36.5" lengthAdjust="spacingAndGlyphs">July</text><text x="241.8" y="57.4" class="ttl" textLength="27.7" lengthAdjust="spacingAndGlyphs">01,</text><text x="277.8" y="57.4" class="ttl" textLength="46.1" lengthAdjust="spacingAndGlyphs">2020</text><text x="137.6" y="82.2" class="ttl" textLength="106.2" lengthAdjust="spacingAndGlyphs">Correlation:</text><text x="250.1" y="82.2" class="ttl" textLength="139.2" lengthAdjust="spacingAndGlyphs">(non-weighted)</text><text x="397.4" y="82.2" class="ttl" textLength="88.1" lengthAdjust="spacingAndGlyphs">Pearson’s</text><text x="492.2" y="82.2" class="ttl" textLength="11.3" lengthAdjust="spacingAndGlyphs"><tspan font-style="italic">ρ</tspan></text><text x="511.2" y="82.2" class="ttl" textLength="13.3" lengthAdjust="spacingAndGlyphs">=</text><text x="532.1" y="82.2" class="ttl" textLength="40.2" lengthAdjust="spacingAndGlyphs">0.64</text><text x="250.1" y="106.8" class="ttl" textLength="184.5" lengthAdjust="spacingAndGlyphs">population-weighted</text><text x="442.7" y="106.8" class="ttl" textLength="87.6" lengthAdjust="spacingAndGlyphs">Pearson’s</text><text x="537.6" y="106.8" class="ttl" textLength="11.3" lengthAdjust="spacingAndGlyphs"><tspan font-style="italic">ρ</tspan></text><text x="556.5" y="106.8" class="ttl" textLength="13.3" lengthAdjust="spacingAndGlyphs">=</text><text x="576.9" y="106.8" class="ttl" textLength="40.8" lengthAdjust="spacingAndGlyphs">0.85</text>
<text x="985.2" y="57.4" class="ttl" textLength="50.8" lengthAdjust="spacingAndGlyphs">Date:</text><text x="1046.0" y="57.4" class="ttl" textLength="92.4" lengthAdjust="spacingAndGlyphs">November</text><text x="1146.0" y="57.4" class="ttl" textLength="27.6" lengthAdjust="spacingAndGlyphs">01,</text><text x="1182.5" y="57.4" class="ttl" textLength="46.0" lengthAdjust="spacingAndGlyphs">2020</text><text x="985.2" y="82.2" class="ttl" textLength="106.2" lengthAdjust="spacingAndGlyphs">Correlation:</text><text x="1097.7" y="82.2" class="ttl" textLength="139.2" lengthAdjust="spacingAndGlyphs">(non-weighted)</text><text x="1245.0" y="82.2" class="ttl" textLength="88.1" lengthAdjust="spacingAndGlyphs">Pearson’s</text><text x="1339.8" y="82.2" class="ttl" textLength="11.3" lengthAdjust="spacingAndGlyphs"><tspan font-style="italic">ρ</tspan></text><text x="1358.8" y="82.2" class="ttl" textLength="13.3" lengthAdjust="spacingAndGlyphs">=</text><text x="1379.7" y="82.2" class="ttl" textLength="40.2" lengthAdjust="spacingAndGlyphs">0.75</text><text x="1097.7" y="106.8" class="ttl" textLength="184.5" lengthAdjust="spacingAndGlyphs">population-weighted</text><text x="1290.3" y="106.8" class="ttl" textLength="87.6" lengthAdjust="spacingAndGlyphs">Pearson’s</text><text x="1385.2" y="106.8" class="ttl" textLength="11.3" lengthAdjust="spacingAndGlyphs"><tspan font-style="italic">ρ</tspan></text><text x="1404.1" y="106.8" class="ttl" textLength="13.3" lengthAdjust="spacingAndGlyphs">=</text><text x="1424.5" y="106.8" class="ttl" textLength="40.8" lengthAdjust="spacingAndGlyphs">0.87</text>
<text x="11.2" y="27.2" class="pl">a</text>
<text x="841.0" y="27.2" class="pl">b</text>
<text x="1579.2" y="588.2" class="pl">c</text>
<path class="ax" d="M1649.4,590.7V746.0"/><path class="ax" d="M1640.6,590.7H1649.4"/><text x="1614.3" y="596.7" class="s" textLength="22.3" lengthAdjust="spacingAndGlyphs">0.9</text><path class="ax" d="M1640.6,629.5H1649.4"/><text x="1614.3" y="635.5" class="s" textLength="22.3" lengthAdjust="spacingAndGlyphs">0.8</text><path class="ax" d="M1640.6,668.4H1649.4"/><text x="1614.3" y="674.4" class="s" textLength="22.3" lengthAdjust="spacingAndGlyphs">0.7</text><path class="ax" d="M1640.6,707.2H1649.4"/><text x="1614.3" y="713.2" class="s" textLength="22.3" lengthAdjust="spacingAndGlyphs">0.6</text><path class="ax" d="M1640.6,746.0H1649.4"/><text x="1614.3" y="752.0" class="s" textLength="22.3" lengthAdjust="spacingAndGlyphs">0.5</text><path class="ax" d="M1666.6,746.0H1986"/><path class="ax" d="M1681.6,746.0V754.6"/><text x="1667.2" y="770.5" class="s" textLength="28.5" lengthAdjust="spacingAndGlyphs">Mar</text><path class="ax" d="M1717.6,746.0V754.6"/><text x="1704.3" y="770.5" class="s" textLength="26.5" lengthAdjust="spacingAndGlyphs">Apr</text><path class="ax" d="M1753.6,746.0V754.6"/><text x="1738.3" y="770.5" class="s" textLength="30.5" lengthAdjust="spacingAndGlyphs">May</text><path class="ax" d="M1789.6,746.0V754.6"/><text x="1776.5" y="770.5" class="s" textLength="26.0" lengthAdjust="spacingAndGlyphs">Jun</text><path class="ax" d="M1825.6,746.0V754.6"/><text x="1815.3" y="770.5" class="s" textLength="20.5" lengthAdjust="spacingAndGlyphs">Jul</text><path class="ax" d="M1861.6,746.0V754.6"/><text x="1847.0" y="770.5" class="s" textLength="29.0" lengthAdjust="spacingAndGlyphs">Aug</text><path class="ax" d="M1897.7,746.0V754.6"/><text x="1883.8" y="770.5" class="s" textLength="27.5" lengthAdjust="spacingAndGlyphs">Sep</text><path class="ax" d="M1933.7,746.0V754.6"/><text x="1919.6" y="770.5" class="s" textLength="28.0" lengthAdjust="spacingAndGlyphs">Oct</text><path class="ax" d="M1969.7,746.0V754.6"/><text x="1955.3" y="770.5" class="s" textLength="28.5" lengthAdjust="spacingAndGlyphs">Nov</text><text x="1708.6" y="795.8" class="m" textLength="234.4" lengthAdjust="spacingAndGlyphs">First days of months of 2020</text><g transform="translate(1600.3,713.2) rotate(-90)"><text x="0.0" y="0.0" class="m" textLength="91.5" lengthAdjust="spacingAndGlyphs">Pearson’s <tspan font-style="italic">ρ</tspan></text></g><polyline fill="none" stroke="#111" stroke-width="1.4" stroke-dasharray="1.4 1.97" points="1681.6,679.8 1718.1,625.1 1753.5,620.8 1789.7,617.1 1825.1,609.6 1861.4,604.9 1897.8,604.5 1933.4,603.0 1969.7,601.5"/><polyline fill="none" stroke="#333" stroke-width="1.56" stroke-dasharray="5.8 2.5" points="1681.6,691.6 1718.1,704.9 1753.5,711.5 1789.7,707.2 1825.1,690.9 1861.4,674.8 1897.8,665.4 1933.4,655.7 1969.7,650.8"/><circle cx="1681.6" cy="679.8" r="4.15" fill="none" stroke="#000" stroke-width="1.7"/><circle cx="1718.1" cy="625.1" r="4.15" fill="none" stroke="#000" stroke-width="1.7"/><circle cx="1753.5" cy="620.8" r="4.15" fill="none" stroke="#000" stroke-width="1.7"/><circle cx="1789.7" cy="617.1" r="4.15" fill="none" stroke="#000" stroke-width="1.7"/><circle cx="1825.1" cy="609.6" r="4.15" fill="none" stroke="#000" stroke-width="1.7"/><circle cx="1861.4" cy="604.9" r="4.15" fill="none" stroke="#000" stroke-width="1.7"/><circle cx="1897.8" cy="604.5" r="4.15" fill="none" stroke="#000" stroke-width="1.7"/><circle cx="1933.4" cy="603.0" r="4.15" fill="none" stroke="#000" stroke-width="1.7"/><circle cx="1969.7" cy="601.5" r="4.15" fill="none" stroke="#000" stroke-width="1.7"/><circle cx="1681.6" cy="691.6" r="4.8" fill="#333"/><circle cx="1718.1" cy="704.9" r="4.8" fill="#333"/><circle cx="1753.5" cy="711.5" r="4.8" fill="#333"/><circle cx="1789.7" cy="707.2" r="4.8" fill="#333"/><circle cx="1825.1" cy="690.9" r="4.8" fill="#333"/><circle cx="1861.4" cy="674.8" r="4.8" fill="#333"/><circle cx="1897.8" cy="665.4" r="4.8" fill="#333"/><circle cx="1933.4" cy="655.7" r="4.8" fill="#333"/><circle cx="1969.7" cy="650.8" r="4.8" fill="#333"/><text x="1801.4" y="573.4" class="m" textLength="155.8" lengthAdjust="spacingAndGlyphs">population-weighted</text><text x="1964.0" y="573.4" class="m" textLength="9.2" lengthAdjust="spacingAndGlyphs"><tspan font-style="italic">ρ</tspan></text><text x="1860.8" y="718.2" class="m" textLength="102.2" lengthAdjust="spacingAndGlyphs">non-weighted</text><text x="1970.8" y="718.2" class="m" textLength="9.0" lengthAdjust="spacingAndGlyphs"><tspan font-style="italic">ρ</tspan></text><path d="M1799.2,569.4C1780,571.5 1771.8,584 1771.3,612" fill="none" stroke="#8a8a8a" stroke-width="1.15"/><path d="M1771.3,618.0l-3.2,-9.6l3.2,2.2l3.2,-2.2z" fill="#8a8a8a"/><path d="M1858.6,713.4C1850,711.5 1845.5,703 1842.4,691" fill="none" stroke="#8a8a8a" stroke-width="1.15"/><path d="M1841.0,685.0L1846.4,692.8L1842.9,691.6L1840.4,694.5z" fill="#8a8a8a"/>
</svg></body></html>
